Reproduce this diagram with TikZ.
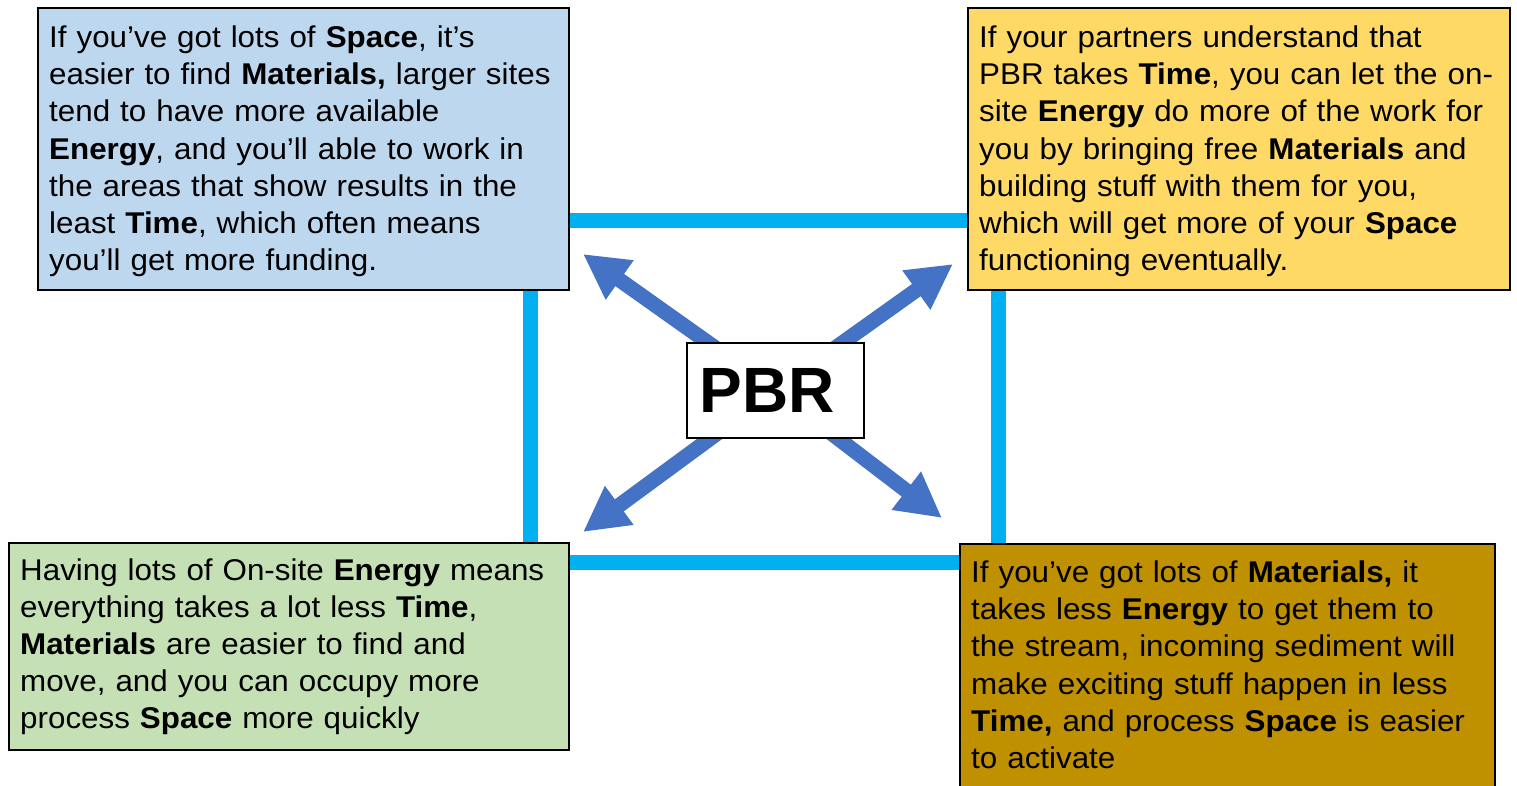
\documentclass[tikz,border=0pt]{standalone}
\usepackage{fontspec}
\setmainfont{Liberation Sans}
\newfontfamily\bodyfont{Liberation Sans}[FakeStretch=1.045]
\usetikzlibrary{arrows.meta}
\pgfdeclarelayer{background}
\pgfsetlayers{background,main}
\definecolor{spaceblue}{HTML}{BDD7EE}
\definecolor{timeyellow}{HTML}{FFD966}
\definecolor{energygreen}{HTML}{C5E0B4}
\definecolor{matgold}{HTML}{BF9000}
\definecolor{framecyan}{HTML}{00B0F0}
\definecolor{pushblue}{HTML}{4472C4}

\begin{document}
\begin{tikzpicture}[x=0.5pt,y=-0.5pt,
  txt/.style={draw=black,line width=1.2pt,text=black,align=left,anchor=north west,
    inner xsep=5.5pt,font=\bodyfont\fontsize{15}{18.6}\selectfont},
  frame/.style={draw=framecyan,line width=7.5pt},
  push/.style={draw=pushblue,line width=7.5pt,-{Triangle[length=22.5pt,width=22.5pt]}}]
  \useasboundingbox (0,0) rectangle (1517,786);
  % frame behind the boxes
  \draw[frame] (530,221) rectangle (998,562);
  \node[txt,fill=spaceblue,text width=254.5pt,minimum height=141pt] (space) at (37,7)
    {\rule{0pt}{13pt}If you’ve got lots of \textbf{Space}, it’s\\
     easier to find \textbf{Materials,} larger sites\\
     tend to have more available\\
     \textbf{Energy}, and you’ll able to work in\\
     the areas that show results in the\\
     least \textbf{Time}, which often means\\
     you’ll get more funding.};
  \node[txt,fill=timeyellow,text width=260pt,minimum height=141pt] (time) at (967,7)
    {\rule{0pt}{13pt}If your partners understand that\\
     PBR takes \textbf{Time}, you can let the on-\\
     site \textbf{Energy} do more of the work for\\
     you by bringing free \textbf{Materials} and\\
     building stuff with them for you,\\
     which will get more of your \textbf{Space}\\
     functioning eventually.};
  \node[txt,fill=energygreen,text width=269pt,minimum height=103.5pt] (energy) at (8,542)
    {Having lots of On-site \textbf{Energy} means\\
     everything takes a lot less \textbf{Time},\\
     \textbf{Materials} are easier to find and\\
     move, and you can occupy more\\
     process \textbf{Space} more quickly};
  \node[txt,fill=matgold,text width=256.5pt,minimum height=128.5pt] (materials) at (959,543)
    {If you’ve got lots of \textbf{Materials,} it\\
     takes less \textbf{Energy} to get them to\\
     the stream, incoming sediment will\\
     make exciting stuff happen in less\\
     \textbf{Time,} and process \textbf{Space} is easier\\
     to activate\rule[-8pt]{0pt}{8pt}};
  \node[draw=black,fill=white,line width=1.2pt,font=\fontsize{32}{36}\selectfont\bfseries,
    minimum width=88.5pt,minimum height=47.5pt,inner sep=0pt] (pbr) at (775.5,390.5) {PBR\hspace{8pt}\null};
  \coordinate (ul) at (583,254);
  \coordinate (ur) at (953,264);
  \coordinate (ll) at (583,532);
  \coordinate (lr) at (942,518);
  \begin{pgfonlayer}{background}
    \draw[push] (pbr.center) -- (ul);
    \draw[push] (pbr.center) -- (ur);
    \draw[push] (pbr.center) -- (ll);
    \draw[push] (pbr.center) -- (lr);
  \end{pgfonlayer}
\end{tikzpicture}
\end{document}
